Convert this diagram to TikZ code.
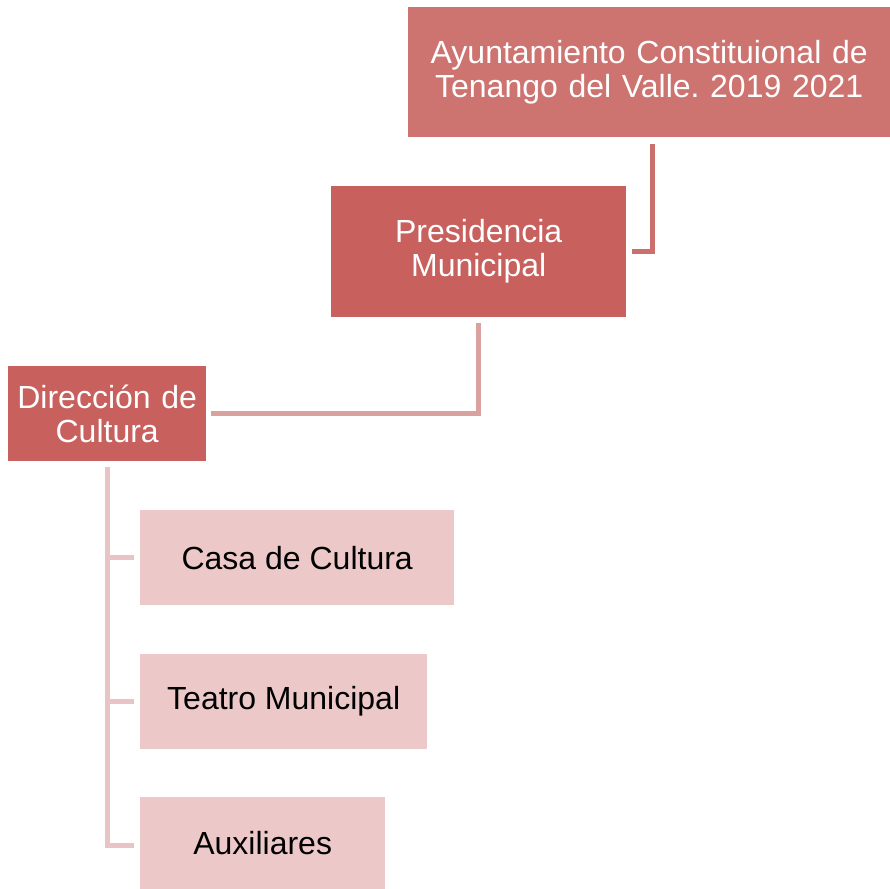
\documentclass[tikz,border=0pt]{standalone}
\usepackage{fontspec}
\setmainfont{Liberation Sans}
\usepackage{xcolor}
\usepackage{tikz}
\usetikzlibrary{positioning}
\frenchspacing
\definecolor{topred}{HTML}{CD7370}
\definecolor{midred}{HTML}{C8605E}
\definecolor{lightpink}{HTML}{ECC9C8}
\definecolor{linkred}{HTML}{CB6F6C}
\definecolor{linkrose}{HTML}{D9A2A1}
\definecolor{linkpink}{HTML}{E8C5C4}
\tikzstyle{toplevel} = [rectangle, anchor=north west, inner sep=0pt, minimum width=482pt, minimum height=130pt, text width=470pt, align=center, fill=topred, text=white, font=\fontsize{32}{34}\selectfont]
\tikzstyle{midlevel} = [rectangle, anchor=north west, inner sep=0pt, text width=190pt, align=center, fill=midred, text=white, font=\fontsize{32}{34}\selectfont]
\tikzstyle{sublevel} = [rectangle, anchor=north west, inner sep=0pt, minimum height=95pt, align=center, fill=lightpink, text=black, font=\fontsize{32}{34}\selectfont]
\tikzstyle{link} = [line width=5pt]

\begin{document}
\begin{tikzpicture}[x=1pt, y=-1pt]
		\useasboundingbox (0,0) rectangle (890,888);
		
		\node (top) [toplevel] at (408,7) {Ayuntamiento Constituional de\\Tenango del Valle. 2019 2021};
		\node (pres) [midlevel, minimum width=295pt, minimum height=131pt] at (331,186) {Presidencia\\Municipal};
		\node (dir) [midlevel, minimum width=198pt, minimum height=95pt] at (8,366) {Dirección de\\Cultura};
		\node (casa) [sublevel, minimum width=314pt] at (140,510) {Casa de Cultura};
		\node (teatro) [sublevel, minimum width=287pt] at (140,654) {Teatro Municipal};
		\node (aux) [sublevel, minimum width=245pt, minimum height=92pt] at (140,797) {Auxiliares};
		
		\draw [link, linkred] ([xshift=3pt, yshift=-7pt]top.south) |- ([xshift=6pt]pres.east);
		\draw [link, linkrose] ([yshift=-6pt]pres.south) |- ([xshift=5pt]dir.east);
		\draw [link, linkpink] ([yshift=-6pt]dir.south) |- ([xshift=-6pt]casa.west);
		\draw [link, linkpink] ([yshift=-6pt]dir.south) |- ([xshift=-6pt]teatro.west);
		\draw [link, linkpink] ([yshift=-6pt]dir.south) |- ([xshift=-6pt, yshift=-2pt]aux.west);
		
	\end{tikzpicture}
\end{document}
